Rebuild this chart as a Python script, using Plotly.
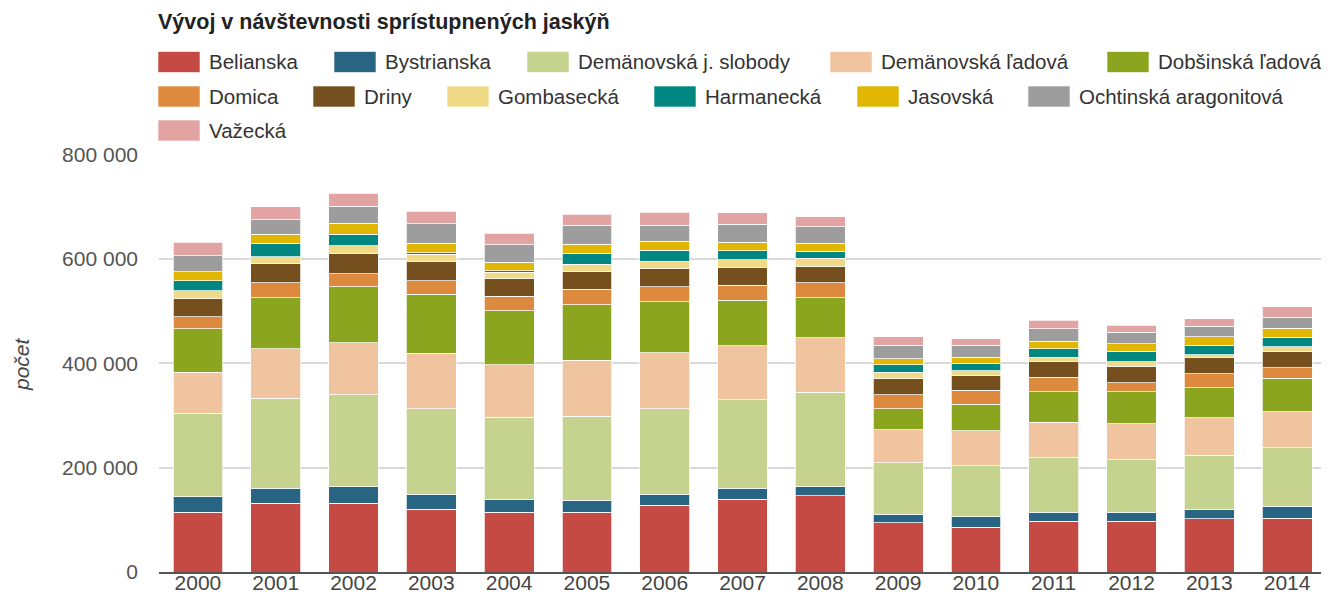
import plotly.graph_objects as go

years = ["2000", "2001", "2002", "2003", "2004", "2005", "2006", "2007",
         "2008", "2009", "2010", "2011", "2012", "2013", "2014"]

belianska = [114200, 131500, 131500, 120200, 114200, 114200, 128300, 139800, 146100, 94200, 85400, 97500, 96900, 101900, 102700]
bystrianska = [30000, 28800, 31900, 28800, 25600, 23700, 20600, 20600, 17300, 16700, 20400, 16700, 17300, 18100, 23700]
demanovska_js = [160400, 173100, 175800, 163500, 156300, 161000, 164000, 169800, 181500, 98700, 98100, 104400, 100600, 103800, 112100]
demanovska_lad = [78100, 94800, 100000, 107100, 100800, 106900, 107100, 103800, 103800, 62900, 66700, 68700, 69200, 71700, 68700]
dobsinska = [83500, 97500, 107700, 112900, 103800, 106500, 98100, 86500, 76900, 40400, 51300, 57700, 61000, 57700, 64000]
domica = [23100, 28800, 25000, 25200, 28100, 29400, 28800, 28800, 28800, 26900, 26200, 28100, 17300, 26300, 20000]
driny = [34600, 37100, 38500, 37900, 32700, 33300, 34600, 34600, 31900, 30800, 28300, 29600, 31900, 30800, 31900]
gombasecka = [14600, 12900, 14600, 12900, 12900, 14800, 14000, 14000, 14800, 12100, 9600, 8800, 8500, 6300, 9000]
harmanecka = [19200, 25600, 22500, 3100, 2500, 20600, 20600, 17900, 14000, 14800, 13500, 16700, 20400, 17300, 16700]
jasovska = [17300, 17300, 20600, 18100, 16200, 17300, 17300, 16200, 14800, 11000, 12100, 14000, 14200, 17300, 17900]
ochtinska = [30800, 27500, 32700, 37500, 33800, 37100, 31300, 34000, 31300, 26200, 22500, 23800, 22300, 19800, 21700]
vazecka = [25800, 25000, 25000, 24000, 21900, 21200, 24400, 22500, 19200, 16200, 12900, 16000, 13500, 14200, 20000]

series_names = ["Belianska", "Bystrianska", "Demänovská j. slobody", "Demänovská ľadová",
                "Dobšinská ľadová", "Domica", "Driny", "Gombasecká", "Harmanecká",
                "Jasovská", "Ochtinská aragonitová", "Važecká"]
series_values = [belianska, bystrianska, demanovska_js, demanovska_lad, dobsinska, domica,
                 driny, gombasecka, harmanecka, jasovska, ochtinska, vazecka]
colors = ["#C44A43", "#286583", "#C6D38F", "#EFC49E", "#8BA61E", "#DE8A3E",
          "#75501E", "#F0D987", "#008781", "#E0B600", "#9D9D9D", "#E1A4A2"]

y_tick_vals = [0, 200000, 400000, 600000, 800000]
y_tick_text = ["0", "200 000", "400 000", "600 000", "800 000"]

# page body has an 8px margin; figure is sized/positioned to compensate
OFF = 8
W, H = 1329 - OFF, 595 - OFF
ML, MR, MT, MB = 159 - OFF, 3, 154 - OFF, 23
PW, PH = W - ML - MR, H - MT - MB

def px_x(px):
    return (px - OFF - ML) / PW

def px_y(py):
    return (H - MB - (py - OFF)) / PH

FONT = "Liberation Sans, Arial, sans-serif"

fig = go.Figure()
for name, vals, col in zip(series_names, series_values, colors):
    fig.add_trace(go.Bar(
        x=years, y=vals, name=name,
        marker=dict(color=col, line=dict(color="rgba(255,255,255,0.75)", width=1)),
        showlegend=False,
    ))

# manual legend (large swatches like the reference)
legend_rows = [
    [(158, 0), (334, 1), (527, 2), (830, 3), (1107, 4)],
    [(158, 5), (313, 6), (447, 7), (654, 8), (857, 9), (1028, 10)],
    [(158, 11)],
]
row_y = [62, 96.5, 130.5]
shapes = []
annotations = []
for ry, row in zip(row_y, legend_rows):
    for sx, idx in row:
        shapes.append(dict(
            type="rect", xref="paper", yref="paper",
            x0=px_x(sx), x1=px_x(sx + 42), y0=px_y(ry + 10.5), y1=px_y(ry - 10.5),
            fillcolor=colors[idx], line=dict(color="rgba(255,255,255,0.6)", width=1),
            layer="above",
        ))
        annotations.append(dict(
            xref="paper", yref="paper", x=px_x(sx + 49), y=px_y(ry),
            xanchor="left", yanchor="middle", showarrow=False,
            text=series_names[idx], font=dict(family=FONT, size=20.5, color="#333333"),
        ))

annotations.append(dict(
    xref="paper", yref="paper", x=px_x(156), y=px_y(22),
    xanchor="left", yanchor="middle", showarrow=False,
    text="<b>Vývoj v návštevnosti sprístupnených jaskýň</b>",
    font=dict(family=FONT, size=21.5, color="#222222"),
))
annotations.append(dict(
    xref="paper", yref="paper", x=px_x(21), y=px_y(364),
    xanchor="center", yanchor="middle", showarrow=False, textangle=-90,
    text="<i>počet</i>", font=dict(family=FONT, size=21, color="#444444"),
))

fig.update_layout(
    width=W, height=H,
    margin=dict(l=ML, r=MR, t=MT, b=MB, autoexpand=False),
    barmode="stack", bargap=0.36,
    plot_bgcolor="white", paper_bgcolor="white",
    shapes=shapes, annotations=annotations,
    xaxis=dict(
        type="category", showgrid=False, showline=True, linecolor="#555555", linewidth=2,
        ticks="", ticklabelstandoff=-9,
        tickfont=dict(family=FONT, size=21, color="#444444"), automargin=False,
        fixedrange=True,
    ),
    yaxis=dict(
        range=[0, 801000], tickvals=y_tick_vals, ticktext=y_tick_text,
        showgrid=True, gridcolor="#D9D9D9", gridwidth=2, zeroline=False,
        ticks="", ticklabelstandoff=20,
        tickfont=dict(family=FONT, size=21, color="#555555"), automargin=False,
        fixedrange=True,
    ),
)

fig.write_html("out.html")
